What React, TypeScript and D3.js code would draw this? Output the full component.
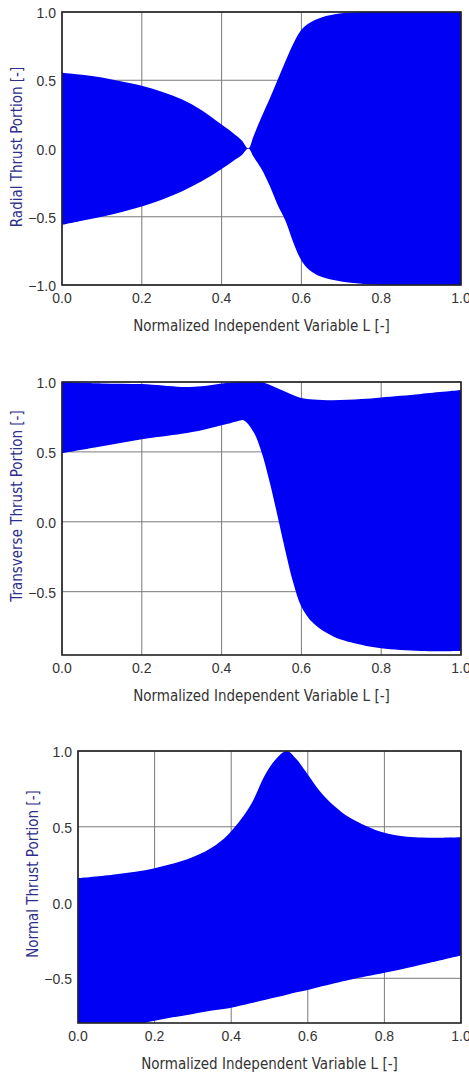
import React from "react";
import * as d3 from "d3";

const W = 469;
const H = 1073;

// Radial thrust envelope
const radialL = [0, 0.05, 0.1, 0.15, 0.2, 0.25, 0.3, 0.35, 0.4, 0.43, 0.45, 0.467, 0.48, 0.5, 0.52, 0.54, 0.56, 0.58, 0.6, 0.62, 0.65, 0.7, 0.75, 0.8, 0.9, 1.0];
const radialUpper = [0.555, 0.54, 0.52, 0.49, 0.46, 0.415, 0.36, 0.28, 0.175, 0.11, 0.06, 0.0, 0.09, 0.23, 0.36, 0.5, 0.64, 0.77, 0.87, 0.92, 0.96, 0.99, 1.0, 1.0, 1.0, 1.0];
const radialLower = [-0.56, -0.53, -0.5, -0.465, -0.425, -0.375, -0.315, -0.24, -0.15, -0.09, -0.05, 0.0, -0.06, -0.15, -0.27, -0.41, -0.53, -0.69, -0.82, -0.89, -0.94, -0.975, -0.99, -1.0, -1.0, -1.0];

// Transverse thrust envelope
const transverseL = [0, 0.1, 0.2, 0.3, 0.35, 0.4, 0.44, 0.455, 0.48, 0.5, 0.52, 0.54, 0.56, 0.58, 0.6, 0.63, 0.68, 0.75, 0.8, 0.9, 1.0];
const transverseUpper = [1.0, 0.99, 0.985, 0.965, 0.97, 0.99, 1.0, 1.0, 1.0, 1.0, 0.98, 0.955, 0.93, 0.905, 0.885, 0.875, 0.87, 0.878, 0.89, 0.915, 0.942];
const transverseLower = [0.49, 0.54, 0.59, 0.63, 0.655, 0.69, 0.72, 0.727, 0.643, 0.5, 0.29, 0.045, -0.21, -0.44, -0.607, -0.726, -0.82, -0.88, -0.905, -0.925, -0.925];

// Normal thrust envelope
const normalL = [0, 0.1, 0.2, 0.3, 0.36, 0.4, 0.45, 0.49, 0.52, 0.545, 0.57, 0.6, 0.63, 0.67, 0.71, 0.8, 0.88, 1.0];
const normalUpper = [0.16, 0.186, 0.226, 0.3, 0.38, 0.47, 0.64, 0.85, 0.956, 1.0, 0.947, 0.845, 0.74, 0.635, 0.56, 0.46, 0.43, 0.43];
const normalLower = [-0.9, -0.84, -0.78, -0.735, -0.71, -0.695, -0.665, -0.641, -0.623, -0.608, -0.592, -0.577, -0.558, -0.533, -0.509, -0.463, -0.42, -0.35];

const xTicks = [0, 0.2, 0.4, 0.6, 0.8, 1.0];
const radialTicks = [-1, -0.5, 0, 0.5, 1];
const transverseTicks = [-0.5, 0, 0.5, 1];
const normalTicks = [-0.5, 0, 0.5, 1];

const xTitle = "Normalized Independent Variable L [-]";
const tickFont = "'Liberation Sans', Arial, sans-serif";
const titleFont = "'DejaVu Sans Condensed', 'DejaVu Sans', sans-serif";

type Row = { l: number; hi: number; lo: number };

function Panel(props: {
  id: string;
  L: number[];
  upper: number[];
  lower: number[];
  yDomain: [number, number];
  yTicks: number[];
  yTitle: string;
  left: number;
  right: number;
  top: number;
  bottom: number;
  titleX: number;
  titleY: number;
}) {
  const { id, L, upper, lower, yDomain, yTicks, yTitle, left, right, top, bottom, titleX, titleY } = props;
  const x = d3.scaleLinear().domain([0, 1]).range([left, right]);
  const y = d3.scaleLinear().domain(yDomain).range([bottom, top]);
  const rows: Row[] = L.map((l, i) => ({ l, hi: upper[i], lo: lower[i] }));
  const area = d3
    .area<Row>()
    .x((d) => x(d.l))
    .y0((d) => y(d.lo))
    .y1((d) => y(d.hi))
    .curve(d3.curveCatmullRom.alpha(0.5));

  return (
    <g>
      <defs>
        <clipPath id={id}>
          <rect x={left} y={top} width={right - left} height={bottom - top} />
        </clipPath>
      </defs>
      <rect x={left} y={top} width={right - left} height={bottom - top} fill="#fff" />
      {/* grid */}
      {xTicks.map((t) => (
        <line key={"gx" + t} x1={x(t)} x2={x(t)} y1={top} y2={bottom} stroke="#7a7a7a" strokeWidth={1} />
      ))}
      {yTicks.map((t) => (
        <line key={"gy" + t} x1={left} x2={right} y1={y(t)} y2={y(t)} stroke="#7a7a7a" strokeWidth={1} />
      ))}
      <path d={area(rows) || ""} fill="#0000f5" clipPath={`url(#${id})`} />
      <rect x={left} y={top} width={right - left} height={bottom - top} fill="none" stroke="#222" strokeWidth={1.6} />
      {/* tick labels */}
      {yTicks.map((t) => (
        <text
          key={"ty" + t}
          x={left - 6}
          y={y(t) + 1}
          textAnchor="end"
          dominantBaseline="central"
          fontFamily={tickFont}
          fontSize={14}
          fill="#333"
        >
          {d3.format(".1f")(t)}
        </text>
      ))}
      {xTicks.map((t) => (
        <text
          key={"tx" + t}
          x={x(t)}
          y={bottom + 13}
          textAnchor="middle"
          dominantBaseline="central"
          fontFamily={tickFont}
          fontSize={14}
          fill="#333"
        >
          {d3.format(".1f")(t)}
        </text>
      ))}
      <text
        x={(left + right) / 2}
        y={bottom + 41}
        textAnchor="middle"
        dominantBaseline="central"
        fontFamily={titleFont}
        fontSize={15}
        fill="#333"
      >
        {xTitle}
      </text>
      <text
        transform={`translate(${titleX},${titleY}) rotate(-90)`}
        textAnchor="middle"
        dominantBaseline="central"
        fontFamily={titleFont}
        fontSize={15}
        fill="#2e2e8c"
      >
        {yTitle}
      </text>
    </g>
  );
}

export default function App() {
  return (
    <svg
      width={W}
      height={H}
      viewBox={`0 0 ${W} ${H}`}
      style={{ position: "absolute", left: 0, top: 0, background: "#fff" }}
    >
      <rect width={W} height={H} fill="#fff" />
      <Panel
        id="clip-radial"
        L={radialL}
        upper={radialUpper}
        lower={radialLower}
        yDomain={[-1, 1]}
        yTicks={radialTicks}
        yTitle="Radial Thrust Portion [-]"
        left={62}
        right={461}
        top={12}
        bottom={285}
        titleX={17}
        titleY={147}
      />
      <Panel
        id="clip-transverse"
        L={transverseL}
        upper={transverseUpper}
        lower={transverseLower}
        yDomain={[-0.953, 1]}
        yTicks={transverseTicks}
        yTitle="Transverse Thrust Portion [-]"
        left={62}
        right={461}
        top={382}
        bottom={655}
        titleX={17}
        titleY={506}
      />
      <Panel
        id="clip-normal"
        L={normalL}
        upper={normalUpper}
        lower={normalLower}
        yDomain={[-0.795, 1]}
        yTicks={normalTicks}
        yTitle="Normal Thrust Portion [-]"
        left={78}
        right={461}
        top={751}
        bottom={1023}
        titleX={33}
        titleY={874}
      />
    </svg>
  );
}
